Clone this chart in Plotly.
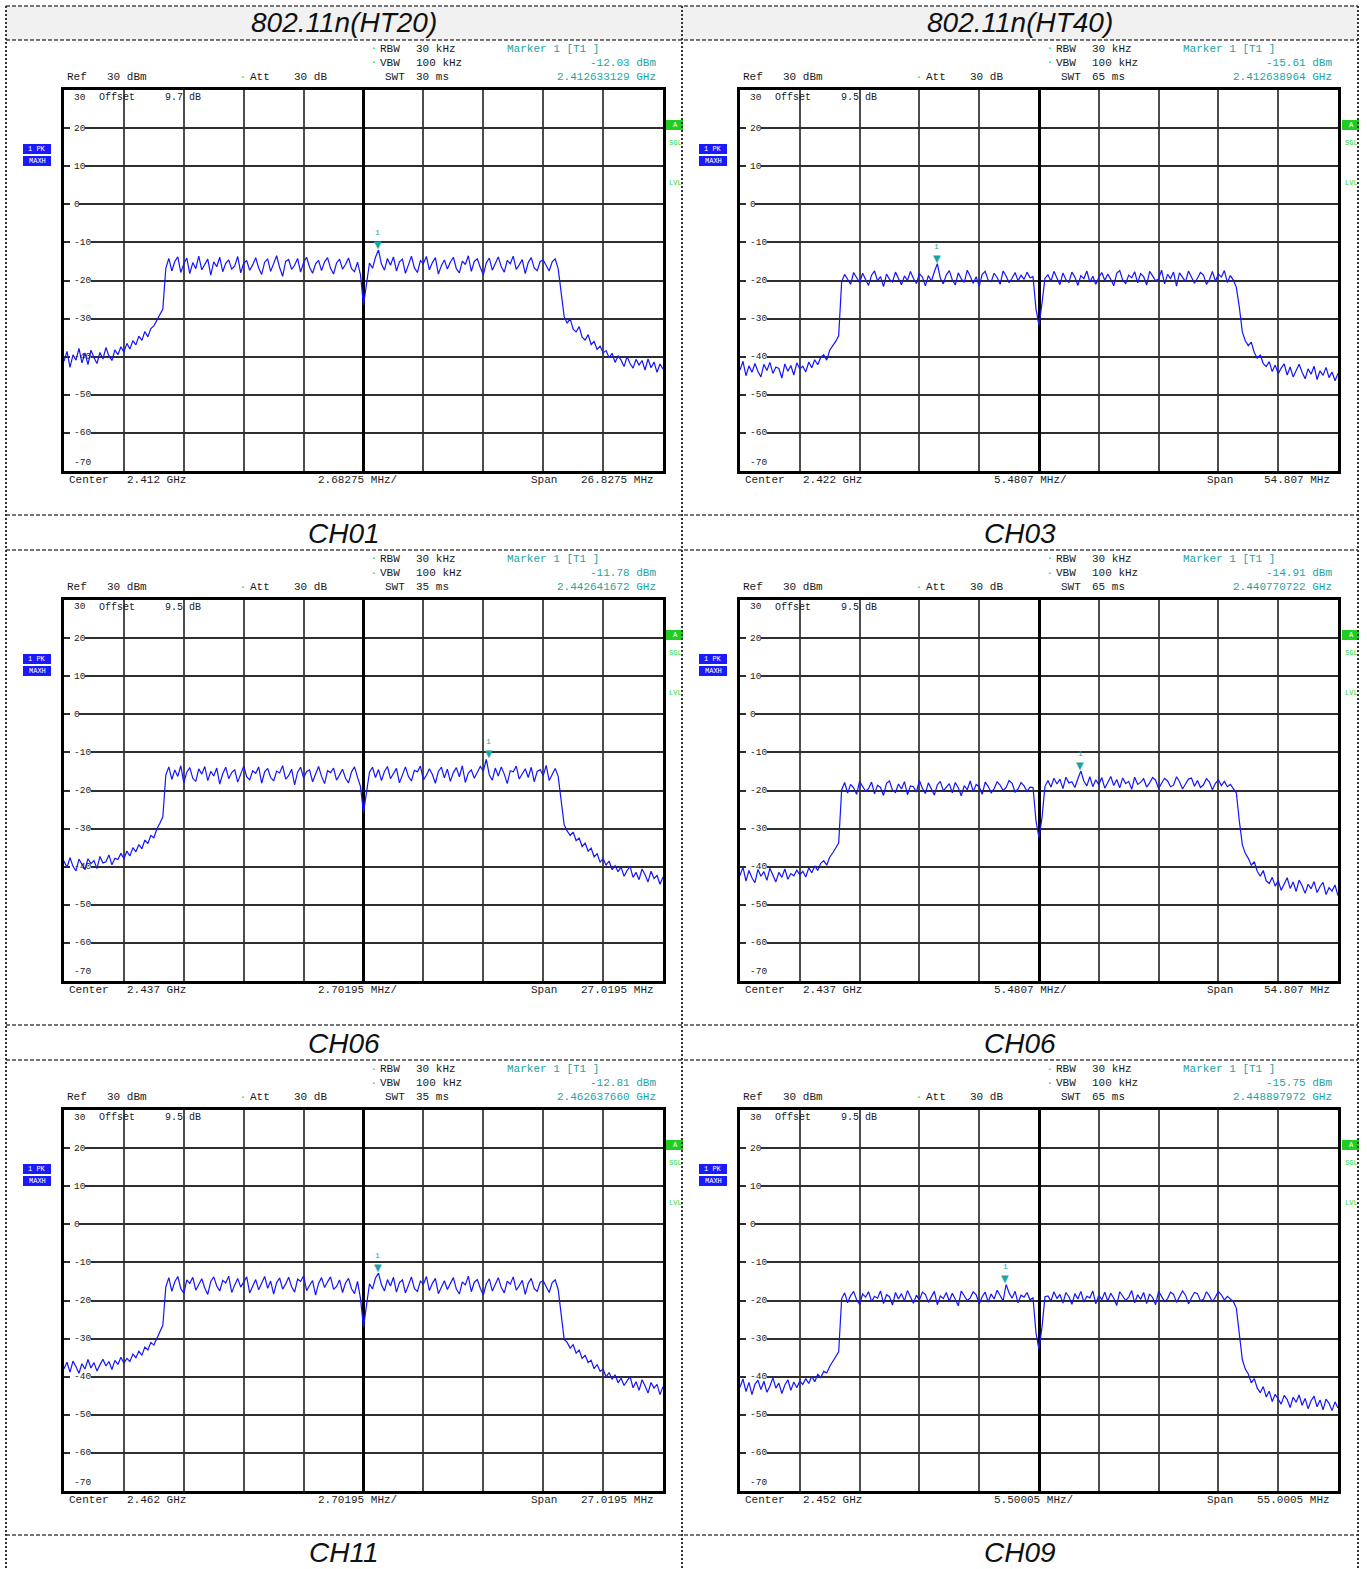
import numpy as np
import plotly.graph_objects as go

# ---------------- data ----------------
column_titles = ["802.11n(HT20)", "802.11n(HT40)"]
channel_labels = ["CH01", "CH03", "CH06", "CH06", "CH11", "CH09"]
center_ghz = ["2.412", "2.422", "2.437", "2.437", "2.462", "2.452"]
span_mhz = ["26.8275", "54.807", "27.0195", "54.807", "27.0195", "55.0005"]
per_div_mhz = ["2.68275", "5.4807", "2.70195", "5.4807", "2.70195", "5.50005"]
swt_ms = [30, 65, 35, 65, 35, 65]
offset_db = ["9.7", "9.5", "9.5", "9.5", "9.5", "9.5"]
marker_level_dbm = [-12.03, -15.61, -11.78, -14.91, -12.81, -15.75]
marker_freq_ghz = ["2.412633129", "2.412638964", "2.442641672",
                   "2.440770722", "2.462637660", "2.448897972"]
ref_level_dbm = 30
att_db = 30
rbw_khz = 30
vbw_khz = 100
y_grid_dbm = [30, 20, 10, 0, -10, -20, -30, -40, -50, -60, -70]

# trace levels (dBm), read across the span from left to right
trace_ch01_ht20 = [
    -41.2, -38.6, -42.8, -39.5, -40.9, -37.8, -41.6, -39.0, -42.1, -38.3, -40.2, -41.8, -38.9, -40.6, -37.6,
    -39.8, -41.0, -38.2, -39.5, -37.4, -38.8,
    -36.5, -38.0, -35.8, -36.9, -34.6, -35.7, -33.4, -34.8, -32.6, -31.9, -30.4, -29.0, -27.5,
    -16.8, -14.2, -17.5, -15.0, -13.8, -17.9, -15.6, -14.1, -18.2, -15.3,
    -16.9, -13.6, -17.2, -15.8, -14.4, -18.6, -15.1, -16.4, -13.9, -17.7,
    -15.5, -14.6, -17.0, -16.2, -13.7, -18.0, -15.4, -14.8, -17.3, -15.9,
    -14.0, -16.7, -18.4, -15.2, -14.3, -17.6, -15.7, -13.5, -16.6, -18.9,
    -15.0, -14.5, -17.1, -16.0, -14.2, -17.8, -15.3, -13.9, -16.5, -18.1,
    -15.6, -14.7, -17.4, -15.1, -14.0, -16.8, -18.3, -15.4, -14.4, -17.0,
    -15.8, -14.1, -16.9, -17.7, -15.2,
    -18.5, -26.5, -20.5,
    -15.4, -16.8, -13.9, -12.0, -15.7, -17.3, -14.2, -16.0, -13.8, -17.5,
    -15.1, -14.4, -18.1, -15.9, -13.6, -16.7, -17.9, -14.8, -15.5, -13.7,
    -17.2, -15.3, -14.0, -18.3, -16.1, -14.6, -17.0, -15.2, -13.9, -16.9,
    -18.0, -14.9, -15.8, -13.5, -17.6, -15.0, -14.3, -16.6, -18.5, -15.4,
    -14.1, -17.3, -15.7, -13.8, -16.4, -17.8, -14.7, -15.6, -13.6, -17.1,
    -15.9, -14.5, -18.2, -15.3, -14.0, -16.7, -17.4, -15.0, -14.6, -16.2,
    -17.5, -15.1, -14.3, -16.9,
    -24.0, -29.5, -31.2, -30.0, -32.8, -33.5, -32.1, -34.9, -35.6, -34.2,
    -36.8, -36.0, -38.1, -37.2, -39.0, -38.4, -40.3, -39.1, -41.5, -39.8,
    -40.9, -42.6, -40.0, -41.8, -43.0, -40.7, -42.2, -41.0, -43.5, -40.6,
    -42.9, -41.4, -44.1, -41.9, -43.2,
]
trace_ch03_ht40 = [
    -43.5, -41.2, -45.0, -42.4, -44.1, -41.8, -43.9, -45.3, -42.0, -43.6, -41.5, -44.4, -42.7, -43.1, -45.6,
    -41.9, -43.8, -42.3, -44.8, -41.6, -43.2,
    -42.5, -44.0, -41.4, -42.9, -40.8, -42.1, -40.2, -39.5, -40.9, -38.3, -37.2, -36.0, -34.5,
    -20.3, -18.4, -19.6, -21.0, -17.9, -19.2, -20.6, -18.1, -19.9, -21.3,
    -18.6, -17.5, -20.1, -19.0, -21.6, -18.3, -19.7, -20.4, -17.8, -19.3,
    -21.1, -18.8, -20.0, -17.6, -19.5, -20.8, -18.2, -19.1, -21.4, -18.7,
    -20.2, -17.7, -15.6, -19.4, -20.9, -18.5, -17.4, -19.8, -21.2, -18.0,
    -19.6, -20.5, -17.3, -18.9, -20.7, -19.0, -21.5, -18.4, -17.6, -19.9,
    -20.3, -18.1, -19.2, -21.0, -17.5, -18.8, -20.6, -19.4, -17.9, -20.1,
    -18.6, -19.7, -17.8, -19.3,
    -19.0, -27.5, -31.8, -26.0, -19.4,
    -18.5, -20.2, -17.6, -19.4, -21.1, -18.0, -19.8, -20.5, -17.8, -19.1,
    -21.3, -18.7, -19.5, -17.5, -20.4, -18.9, -21.0, -19.2, -17.9, -20.0,
    -18.3, -19.7, -21.4, -18.1, -17.4, -19.9, -20.8, -18.6, -19.3, -17.7,
    -20.6, -18.2, -19.0, -21.2, -17.6, -18.8, -20.1, -19.6, -17.3, -20.9,
    -18.4, -19.5, -17.8, -21.5, -18.0, -19.2, -20.3, -17.5, -18.9, -20.7,
    -19.4, -17.9, -18.6, -21.0, -19.8, -17.6, -20.2, -18.3, -19.1, -17.4,
    -20.5, -18.7, -19.9, -21.8,
    -27.0, -33.5, -35.8, -37.1, -36.2, -38.9, -40.4, -39.5, -41.8, -42.6,
    -41.3, -43.9, -42.2, -44.5, -43.0, -41.9, -44.8, -42.7, -45.3, -43.4,
    -42.0, -44.1, -45.8, -43.2, -44.6, -42.5, -46.0, -43.7, -44.9, -42.8,
    -45.5, -44.0, -46.3, -44.4,
]
trace_ch06_ht20 = [
    -38.5, -40.2, -37.6, -39.9, -41.1, -38.0, -39.4, -40.8, -37.9, -39.2, -38.4, -40.5, -37.3, -39.0, -38.7,
    -36.9, -39.5, -37.8, -38.1, -36.5, -37.9,
    -35.9, -37.2, -35.0, -36.1, -34.2, -35.3, -33.0, -33.9, -31.8, -32.4, -30.1, -28.6, -26.9,
    -15.9, -13.8, -17.1, -14.6, -16.3, -13.5, -18.0, -15.2, -14.0, -16.8,
    -17.6, -14.3, -15.7, -13.7, -17.4, -15.0, -16.2, -14.1, -18.3, -15.6,
    -13.9, -16.9, -15.3, -14.5, -17.8, -15.8, -13.6, -16.4, -17.2, -14.8,
    -15.5, -13.8, -18.1, -15.1, -14.2, -16.6, -17.5, -14.9, -15.4, -13.5,
    -17.0, -16.1, -14.4, -18.5, -15.2, -13.9, -16.7, -15.0, -14.6, -17.7,
    -15.7, -13.7, -16.3, -18.2, -14.8, -15.3, -14.1, -17.3, -15.9, -14.4,
    -16.8, -18.0, -15.1, -13.8, -16.5,
    -19.0, -25.8, -20.0,
    -15.2, -13.9, -16.6, -14.5, -17.4, -15.0, -13.7, -16.9, -15.5, -14.2,
    -18.0, -15.6, -13.8, -16.3, -17.5, -14.7, -15.1, -13.6, -17.2, -16.0,
    -14.3, -15.8, -18.1, -15.0, -13.9, -16.7, -14.4, -17.6, -15.3, -14.0,
    -16.4, -13.5, -17.9, -15.4, -14.6, -16.8, -15.2, -13.7, -14.9, -11.8,
    -15.9, -17.3, -14.1, -16.2, -13.8, -15.7, -18.2, -14.8, -15.1, -13.6,
    -17.0, -15.5, -14.3, -16.6, -13.9, -17.7, -15.0, -14.5, -16.1, -13.4,
    -17.4, -15.8, -14.2, -16.3,
    -23.5, -29.0, -30.6, -31.8, -30.9, -33.2, -32.5, -34.7, -33.8, -35.9,
    -35.1, -37.4, -36.6, -38.8, -37.9, -39.6, -38.5, -40.8, -39.7, -41.3,
    -40.1, -42.5, -41.0, -39.9, -42.8, -41.5, -43.4, -40.6, -42.1, -44.0,
    -41.2, -43.1, -42.3, -44.6, -42.7,
]
trace_ch06_ht40 = [
    -42.3, -40.1, -43.8, -41.0, -42.9, -44.2, -40.7, -42.5, -41.3, -43.6, -40.4, -42.0, -44.0, -41.5, -42.8,
    -40.6, -43.3, -41.8, -42.4, -40.9, -42.1,
    -41.2, -42.7, -40.3, -41.6, -39.8, -41.0, -39.1, -38.4, -39.6, -37.5, -36.4, -35.1, -33.8,
    -19.8, -17.9, -20.7, -18.4, -19.3, -21.0, -17.6, -18.9, -20.2, -19.5,
    -17.8, -20.9, -18.6, -19.2, -21.3, -18.1, -17.5, -19.9, -20.5, -18.3,
    -19.6, -17.7, -21.1, -18.8, -19.0, -20.4, -17.4, -19.4, -20.8, -18.0,
    -19.7, -21.2, -18.5, -17.6, -20.1, -19.1, -18.2, -20.6, -17.9, -19.3,
    -21.4, -18.7, -19.8, -17.5, -20.3, -18.4, -19.0, -21.0, -17.8, -18.9,
    -20.6, -19.5, -17.7, -18.6, -20.0, -19.2, -17.4, -18.1, -20.4, -19.6,
    -17.9, -18.8, -20.2, -19.1,
    -19.2, -28.0, -32.4, -27.2, -18.9,
    -17.4, -19.1, -16.8, -18.3, -17.0, -19.5, -16.5, -18.0, -17.7, -19.2,
    -16.9, -14.9, -17.5, -18.8, -16.4, -19.0, -17.2, -18.5, -16.6, -19.4,
    -17.9, -16.3, -18.7, -17.1, -19.3, -16.7, -18.2, -17.6, -19.7, -16.5,
    -18.4, -17.8, -16.9, -19.1, -18.0, -16.6, -17.3, -19.5, -18.1, -16.8,
    -17.5, -19.0, -18.6, -16.4, -17.7, -19.6, -18.3, -17.0, -16.7, -18.9,
    -17.4, -19.2, -18.5, -16.9, -17.8, -19.8, -18.1, -17.2, -18.7, -17.6,
    -19.0, -18.4, -19.5, -20.6,
    -28.0, -34.2, -36.5, -37.8, -39.6, -38.7, -41.2, -42.5, -41.0, -43.7,
    -44.4, -42.8, -45.1, -43.6, -46.2, -44.3, -42.9, -45.7, -44.0, -46.5,
    -43.5, -45.0, -47.0, -44.6, -45.8, -43.9, -46.8, -45.2, -44.1, -47.3,
    -45.5, -46.4, -44.8, -47.6,
]
trace_ch11_ht20 = [
    -37.9, -36.2, -38.8, -35.9, -37.4, -39.1, -36.6, -38.0, -35.5, -37.7, -36.3, -38.5, -36.9, -35.4, -37.2,
    -36.0, -38.1, -35.7, -36.8, -34.9, -36.4,
    -35.2, -36.0, -34.1, -35.0, -33.3, -34.4, -32.2, -33.0, -31.0, -31.7, -29.8, -28.2, -26.5,
    -16.4, -14.0, -17.6, -15.1, -13.7, -16.9, -18.1, -14.6, -15.5, -13.9,
    -17.3, -15.8, -14.3, -16.7, -18.4, -15.0, -13.8, -16.2, -17.5, -14.7,
    -15.4, -13.6, -17.9, -15.9, -14.2, -16.5, -15.2, -13.8, -18.0, -16.1,
    -14.5, -17.2, -15.6, -13.7, -16.8, -14.9, -18.3, -15.3, -14.1, -17.0,
    -15.7, -13.9, -16.4, -17.8, -14.4, -15.0, -13.5, -17.4, -16.0, -14.8,
    -18.6, -15.5, -14.0, -16.6, -15.1, -13.8, -17.1, -16.3, -14.6, -17.9,
    -15.4, -14.2, -16.9, -18.2, -15.0,
    -19.5, -27.0, -21.0,
    -15.6, -17.0, -14.1, -12.8, -15.9, -17.5, -14.5, -16.2, -13.9, -17.8,
    -15.3, -14.6, -18.0, -16.0, -13.8, -16.9, -17.6, -14.9, -15.7, -13.7,
    -17.4, -15.5, -14.2, -18.2, -16.3, -14.8, -17.1, -15.4, -14.0, -17.0,
    -18.3, -15.1, -15.9, -13.6, -17.7, -15.2, -14.5, -16.8, -18.6, -15.6,
    -14.3, -17.5, -15.8, -14.0, -16.6, -18.0, -14.9, -15.7, -13.8, -17.3,
    -16.1, -14.7, -18.4, -15.5, -14.2, -16.9, -17.6, -15.2, -14.8, -16.4,
    -17.9, -15.3, -14.6, -17.1,
    -24.5, -30.2, -31.0, -32.5, -31.6, -33.8, -33.0, -35.2, -34.4, -36.3,
    -35.7, -37.9, -36.8, -38.6, -38.0, -40.1, -38.9, -40.7, -39.5, -41.6,
    -40.4, -42.3, -41.1, -40.0, -42.9, -41.3, -43.6, -40.8, -42.4, -44.3,
    -41.5, -43.0, -42.0, -44.7, -42.6,
]
trace_ch09_ht40 = [
    -42.8, -40.6, -43.9, -41.5, -44.7, -42.0, -40.9, -43.4, -41.2, -44.1, -42.5, -40.3, -43.0, -41.7, -44.4,
    -42.2, -40.8, -43.6, -41.4, -42.9, -41.1,
    -42.0, -40.5, -41.8, -39.9, -41.3, -39.4, -40.2, -38.6, -39.0, -37.3, -36.1, -34.9, -33.5,
    -19.5, -18.0, -20.6, -18.7, -17.6, -19.8, -21.0, -18.3, -19.1, -17.7,
    -20.3, -18.9, -19.4, -17.5, -20.8, -18.5, -19.0, -21.2, -17.9, -19.6,
    -18.2, -20.1, -17.4, -19.3, -20.7, -18.6, -19.9, -17.8, -18.4, -20.5,
    -19.2, -17.6, -21.1, -18.8, -19.5, -17.9, -20.2, -18.1, -19.7, -21.4,
    -17.5, -18.9, -20.0, -19.3, -17.7, -18.5, -20.9, -19.0, -17.8, -20.4,
    -18.3, -19.6, -17.3, -18.7, -20.1, -15.8, -18.0, -19.4, -17.6, -20.6,
    -18.6, -19.1, -17.9, -19.8,
    -19.3, -28.5, -32.8, -27.0, -19.0,
    -18.8, -20.1, -17.7, -19.5, -18.4, -20.7, -17.9, -19.0, -21.0, -18.2,
    -19.6, -17.6, -20.4, -18.9, -19.3, -17.5, -20.9, -18.6, -19.8, -17.8,
    -20.2, -18.1, -19.4, -21.3, -17.7, -18.7, -20.0, -19.1, -17.4, -20.6,
    -18.5, -19.7, -17.9, -20.8, -18.3, -19.2, -21.1, -17.6, -18.9, -20.3,
    -19.5, -17.8, -18.4, -20.5, -19.0, -17.5, -18.6, -20.9, -19.3, -17.9,
    -18.2, -20.1, -19.7, -17.7, -18.8, -20.4, -19.1, -17.6, -18.5, -19.9,
    -18.9, -19.6, -20.3, -22.0,
    -29.0, -35.5, -38.0, -39.3, -41.6, -40.5, -43.0, -44.2, -42.6, -45.3,
    -43.8, -46.5, -44.6, -45.9, -47.2, -44.9, -46.0, -48.1, -45.4, -46.7,
    -44.8, -47.5, -45.7, -48.4, -46.3, -45.1, -47.9, -46.1, -48.7, -45.9,
    -47.0, -48.9, -46.6, -48.2,
]
traces = [trace_ch01_ht20, trace_ch03_ht40, trace_ch06_ht20,
          trace_ch06_ht40, trace_ch11_ht20, trace_ch09_ht40]

# ---------------- layout / style ----------------
W, H = 1367, 1569
PLOT_X0 = [64, 740]
PLOT_X1 = [663, 1338]
PLOT_Y0 = [90, 600, 1110]
PLOT_Y1 = [471, 981, 1491]
HEADER_Y = 23
LABEL_Y = [533, 1043, 1552]
COL_CX = [344, 1020]
MONO = "Liberation Mono"
SANS = "Liberation Sans"
BLUE = "#1414ff"
TEAL = "#1aa5a5"
GREEN = "#2fd52f"
TXT = "#1a1a1a"
FS = 11


def px(x):
    return x / W


def py(y):
    return 1 - y / H


annotations = []
shapes = []


def text(x, y, s, size=FS, color=TXT, xanchor="left", family=MONO, **kw):
    annotations.append(dict(x=px(x), y=py(y), xref="paper", yref="paper", text=s,
                            showarrow=False, xanchor=xanchor, yanchor="middle",
                            font=dict(family=family, size=size, color=color), **kw))


def rect(x0, y0, x1, y1, fill):
    shapes.append(dict(type="rect", xref="paper", yref="paper", x0=px(x0), x1=px(x1),
                       y0=py(y1), y1=py(y0), fillcolor=fill, line=dict(width=0),
                       layer="below"))


def hline(y, x0, x1, dash, width, color):
    shapes.append(dict(type="line", xref="paper", yref="paper", x0=px(x0), x1=px(x1),
                       y0=py(y), y1=py(y), line=dict(color=color, width=width, dash=dash)))


def vline(x, y0, y1, dash, width, color):
    shapes.append(dict(type="line", xref="paper", yref="paper", x0=px(x), x1=px(x),
                       y0=py(y0), y1=py(y1), line=dict(color=color, width=width, dash=dash)))


# table frame
rect(6, 6, 1358, 40, "#f1f1f1")
for yy in [6, 40, 515, 550, 1025, 1060, 1535]:
    hline(yy, 6, 1358, "4px,2px", 1.3, "#4a4a4a")
for xx in [6, 682, 1358]:
    vline(xx, 6, 1569, "2px,2px", 2, "#333333")

for c, t in enumerate(column_titles):
    text(COL_CX[c], HEADER_Y, f"<i>{t}</i>", size=28, color="#111", xanchor="center", family=SANS)

fig = go.Figure()

for k in range(6):
    r, c = divmod(k, 2)
    sfx = "" if k == 0 else str(k + 1)
    span = float(span_mhz[k])
    vals = traces[k]
    xs = np.linspace(-span / 2, span / 2, len(vals))
    fig.add_trace(go.Scatter(x=xs, y=vals, mode="lines", line=dict(color=BLUE, width=1.2),
                             xaxis="x" + sfx, yaxis="y" + sfx, showlegend=False,
                             hoverinfo="skip"))
    fig.layout["xaxis" + sfx] = dict(
        domain=[px(PLOT_X0[c]), px(PLOT_X1[c])], range=[-span / 2, span / 2],
        tick0=0, dtick=span / 10, showgrid=True, gridcolor="#4d4d4d", gridwidth=1.5,
        zeroline=True, zerolinecolor="#000", zerolinewidth=3,
        showline=True, mirror=True, linecolor="#000", linewidth=3,
        showticklabels=False, ticks="", anchor="y" + sfx, fixedrange=True)
    fig.layout["yaxis" + sfx] = dict(
        domain=[py(PLOT_Y1[r]), py(PLOT_Y0[r])], range=[-70, 30],
        tick0=0, dtick=10, showgrid=True, gridcolor="#2e2e2e", gridwidth=1.5,
        zeroline=False, showline=True, mirror=True, linecolor="#000", linewidth=3,
        showticklabels=False, ticks="", anchor="x" + sfx, fixedrange=True)

    ox, oy = PLOT_X0[c], PLOT_Y0[r]
    ob = PLOT_Y1[r]

    # y level labels on the grid (white gap in the grid line, under the trace)
    for v in y_grid_dbm:
        yshift = 0
        if v == y_grid_dbm[0]:
            yshift = -7
        elif v == y_grid_dbm[-1]:
            yshift = 9
        else:
            shapes.append(dict(type="rect", xref="x" + sfx, yref="y" + sfx,
                               xsizemode="pixel", ysizemode="pixel",
                               xanchor=-span / 2, yanchor=v,
                               x0=6, x1=9 + 6 * len(str(v)), y0=-4, y1=4,
                               fillcolor="white", line=dict(width=0), layer="between"))
        annotations.append(dict(x=px(ox + 8), y=v, xref="paper", yref="y" + sfx,
                                text=str(v), showarrow=False, xanchor="left", yanchor="middle",
                                yshift=yshift,
                                font=dict(family=MONO, size=9.5, color=TXT)))
    text(ox + 33, oy + 7, "Offset", size=10)
    text(ox + 99, oy + 7, f"{offset_db[k]} dB", size=10)

    # header lines
    text(ox + 310, oy - 41, "▪", size=6, color=GREEN, xanchor="center")
    text(ox + 314, oy - 41, "RBW")
    text(ox + 350, oy - 41, f"{rbw_khz} kHz")
    text(ox + 441, oy - 41, "Marker 1 [T1 ]", color=TEAL)
    text(ox + 310, oy - 27, "▪", size=6, color=GREEN, xanchor="center")
    text(ox + 314, oy - 27, "VBW")
    text(ox + 350, oy - 27, f"{vbw_khz} kHz")
    text(ox + 594, oy - 27, f"{marker_level_dbm[k]:.2f} dBm", color=TEAL, xanchor="right")
    text(ox + 1, oy - 13, "Ref")
    text(ox + 41, oy - 13, f"{ref_level_dbm} dBm")
    text(ox + 179, oy - 13, "▪", size=6, color=GREEN, xanchor="center")
    text(ox + 184, oy - 13, "Att")
    text(ox + 228, oy - 13, f"{att_db} dB")
    text(ox + 319, oy - 13, "SWT")
    text(ox + 350, oy - 13, f"{swt_ms[k]} ms")
    text(ox + 594, oy - 13, f"{marker_freq_ghz[k]} GHz", color=TEAL, xanchor="right")

    # footer line
    text(ox + 3, ob + 9, "Center")
    text(ox + 61, ob + 9, f"{center_ghz[k]} GHz")
    text(ox + 252, ob + 9, f"{per_div_mhz[k]} MHz/")
    text(ox + 465, ob + 9, "Span")
    text(ox + 592, ob + 9, f"{span_mhz[k]} MHz", xanchor="right")

    # trace mode boxes
    rect(ox - 41, oy + 54, ox - 13, oy + 64, "#1a1aff")
    rect(ox - 41, oy + 66, ox - 13, oy + 76, "#1a1aff")
    text(ox - 27, oy + 59, "1 PK", size=7, color="white", xanchor="center")
    text(ox - 27, oy + 71, "MAXH", size=7, color="white", xanchor="center")
    # status indicators
    rect(ox + 602, oy + 30, ox + 619, oy + 40, "#22cc22")
    text(ox + 611, oy + 35, "A", size=7, color="white", xanchor="center")
    text(ox + 603, oy + 53, "SGL", size=7, color=GREEN)
    text(ox + 603, oy + 93, "LVL", size=7, color=GREEN)

    # marker 1
    mx = (float(marker_freq_ghz[k]) - float(center_ghz[k])) * 1000
    my = marker_level_dbm[k]
    annotations.append(dict(x=mx, y=my, xref="x" + sfx, yref="y" + sfx, text="▼",
                            showarrow=False, xanchor="center", yanchor="bottom", yshift=-2,
                            font=dict(family="DejaVu Sans", size=10, color=TEAL)))
    annotations.append(dict(x=mx, y=my, xref="x" + sfx, yref="y" + sfx, text="1",
                            showarrow=False, xanchor="center", yanchor="bottom", yshift=11,
                            font=dict(family=MONO, size=8, color=TEAL)))

    # channel label under the screenshot
    text(COL_CX[c], LABEL_Y[r], f"<i>{channel_labels[k]}</i>", size=28, color="#111",
         xanchor="center", family=SANS)

fig.update_layout(width=W, height=H, margin=dict(l=0, r=0, t=0, b=0),
                  paper_bgcolor="white", plot_bgcolor="white",
                  annotations=annotations, shapes=shapes, showlegend=False)

fig.write_html("out.html", config={"displayModeBar": False},
               post_script="document.body.style.margin='0';document.body.style.overflow='hidden';")
